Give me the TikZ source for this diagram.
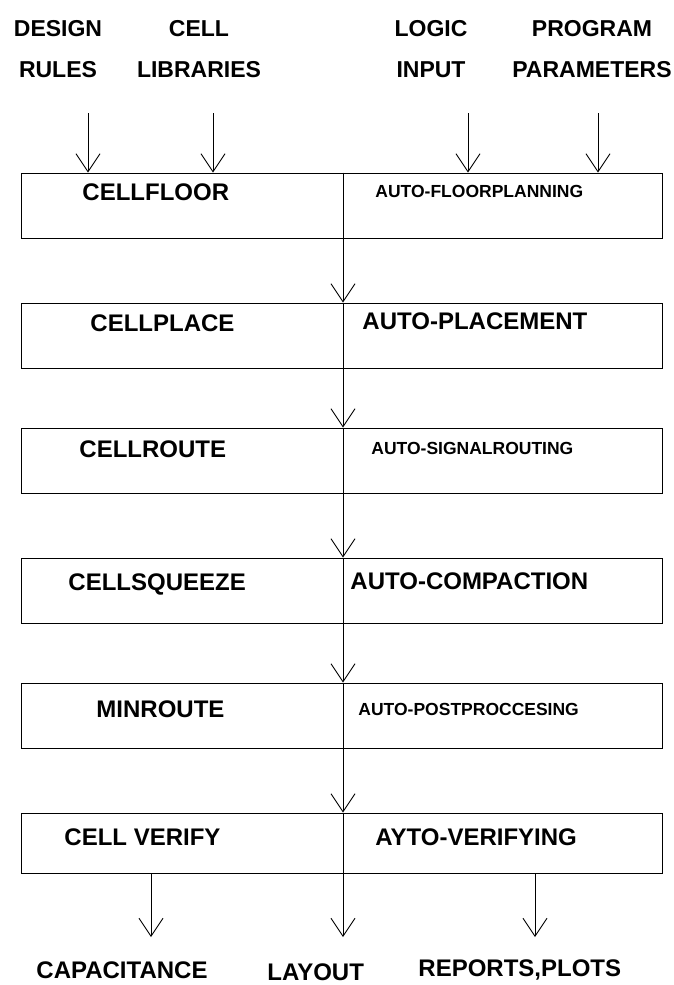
\documentclass[tikz,border=0pt]{standalone}
\usepackage{fontspec}
\setmainfont{Liberation Sans}
\usetikzlibrary{arrows.meta}

\begin{document}
\begin{tikzpicture}[x = 1pt, y = -1pt, line width = 0.9pt,
	stage/.style = {draw, minimum width = 641pt, minimum height = 65pt, inner sep = 0pt},
	big/.style = {inner sep = 0pt, anchor = base west, font = \bfseries\fontsize{24}{28}\selectfont},
	small/.style = {inner sep = 0pt, anchor = base west, font = \bfseries\fontsize{17.5}{20}\selectfont},
	src/.style = {inner sep = 0pt, align = center, font = \bfseries\fontsize{23}{41}\selectfont},
	flow/.style = {-{Straight Barb[length = 18pt, width = 24pt]}}]
	\useasboundingbox (0,0) rectangle (673,985);

	% inputs
	\node[src] (rules) at (58,49) {DESIGN\\RULES};
	\node[src] (libs) at (199,49) {CELL\\LIBRARIES};
	\node[src] (logic) at (431,49) {LOGIC\\INPUT};
	\node[src] (params) at (592,49) {PROGRAM\\PARAMETERS};

	% the six stages
	\node[stage] (floor) at (341.5,205.5) {};
	\node[stage] (place) at (341.5,335.5) {};
	\node[stage] (route) at (341.5,460.5) {};
	\node[stage] (squeeze) at (341.5,590.5) {};
	\node[stage] (minroute) at (341.5,715.5) {};
	\node[stage, minimum height = 60pt] (verify) at (341.5,843) {};
	\coordinate (mid) at (343,0);

	\node[big] (floorname) at (82,200) {CELLFLOOR};
	\node[small] (floortask) at (375,197) {AUTO-FLOORPLANNING};
	\node[big] (placename) at (90,331) {CELLPLACE};
	\node[big] (placetask) at (362,329) {AUTO-PLACEMENT};
	\node[big] (routename) at (79,457) {CELLROUTE};
	\node[small] (routetask) at (371,454) {AUTO-SIGNALROUTING};
	\node[big] (squeezename) at (68,590) {CELLSQUEEZE};
	\node[big] (squeezetask) at (350,589) {AUTO-COMPACTION};
	\node[big] (minroutename) at (96,717) {MINROUTE};
	\node[small] (minroutetask) at (358,715) {AUTO-POSTPROCCESING};
	\node[big] (verifyname) at (64,845) {CELL VERIFY};
	\node[big] (verifytask) at (375,845) {AYTO-VERIFYING};

	% outputs
	\node[big] (cap) at (36,978) {CAPACITANCE};
	\node[big] (layout) at (267,980) {LAYOUT};
	\node[big] (reports) at (418,976) {REPORTS,PLOTS};

	\coordinate (rulesin) at (88,113);
	\coordinate (libsin) at (213,113);
	\coordinate (logicin) at (468,113);
	\coordinate (paramsin) at (598,113);
	\coordinate (capout) at (151,937);
	\coordinate (layoutout) at (343,937);
	\coordinate (reportsout) at (535,937);

	% dividers
	\draw (floor.north -| mid) -- (floor.south -| mid)
		(place.north -| mid) -- (place.south -| mid)
		(route.north -| mid) -- (route.south -| mid)
		(squeeze.north -| mid) -- (squeeze.south -| mid)
		(minroute.north -| mid) -- (minroute.south -| mid)
		(verify.north -| mid) -- (verify.south -| mid);

	\draw[flow] (rulesin) -- (rulesin |- floor.north);
	\draw[flow] (libsin) -- (libsin |- floor.north);
	\draw[flow] (logicin) -- (logicin |- floor.north);
	\draw[flow] (paramsin) -- (paramsin |- floor.north);

	\draw[flow] (floor.south -| mid) -- (place.north -| mid);
	\draw[flow] (place.south -| mid) -- (route.north -| mid);
	\draw[flow] (route.south -| mid) -- (squeeze.north -| mid);
	\draw[flow] (squeeze.south -| mid) -- (minroute.north -| mid);
	\draw[flow] (minroute.south -| mid) -- (verify.north -| mid);

	\draw[flow] (capout |- verify.south) -- (capout);
	\draw[flow] (layoutout |- verify.south) -- (layoutout);
	\draw[flow] (reportsout |- verify.south) -- (reportsout);
\end{tikzpicture}
\end{document}
